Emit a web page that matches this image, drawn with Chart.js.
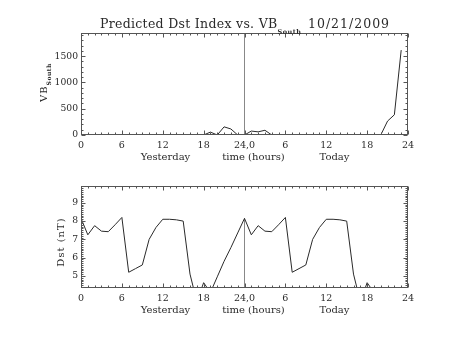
<!DOCTYPE html>
<html>
<head>
<meta charset="utf-8">
<script src="https://cdn.jsdelivr.net/npm/chart.js@4/dist/chart.umd.min.js"></script>
<style>
  html, body { margin: 0; padding: 0; background: #fff; }
  #wrap { position: relative; width: 453px; height: 340px; }
  canvas { position: absolute; left: 0; }
  #vb { top: 0; }
  #dst { top: 170px; }
</style>
</head>
<body>
<div id="wrap">
  <canvas id="vb" width="453" height="170"></canvas>
  <canvas id="dst" width="453" height="170"></canvas>
</div>
<script>
// hours since start of yesterday (24 = midnight, start of today)
const hours = [0, 1, 2, 3, 4, 5, 6, 7, 8, 9, 10, 11, 12, 13, 14, 15, 16, 17, 18, 19, 20, 21, 22, 23,
               24, 25, 26, 27, 28, 29, 30, 31, 32, 33, 34, 35, 36, 37, 38, 39, 40, 41, 42, 43, 44, 45, 46, 47];
const vbSouth = [0, 0, 0, 0, 0, 0, 0, 0, 0, 0, 0, 0, 0, 0, 0, 0, 0, 0, 0, 55, 0, 155, 115, 0,
                 0, 75, 60, 90, 0, 0, 0, 0, 0, 0, 0, 0, 0, 0, 0, 0, 0, 0, 0, 0, 0, 265, 385, 1615];
const dstValues = [8.15, 7.25, 7.75, 7.45, 7.42, 7.8, 8.2, 5.2, 5.4, 5.6, 7.0, 7.65, 8.1, 8.1, 8.07, 8.0, 5.1, 3.6, 4.63, 4.1, 4.95, 5.8, 6.55, 7.35,
                   8.15, 7.25, 7.75, 7.45, 7.42, 7.8, 8.2, 5.2, 5.4, 5.6, 7.0, 7.65, 8.1, 8.1, 8.07, 8.0, 5.1, 3.6, 4.63, 4.1];
const dayBoundary = 24;
const hourTicks = [0, 6, 12, 18, 24, 30, 36, 42, 48];
const hourTickLabels = ['0', '6', '12', '18', '24,0', '6', '12', '18', '24'];
const vbTicks = [0, 500, 1000, 1500];
const dstTicks = [5, 6, 7, 8, 9];

const INK = '#2a2a2a';
const FONT = '"DejaVu Serif", "Liberation Serif", serif';

// frame with inward major/minor ticks on all four sides, plus the text around it
const frameTicks = {
  id: 'frameTicks',
  afterDraw(chart, args, o) {
    const { ctx, chartArea: a, scales: { x, y } } = chart;
    const L = a.left + 0.5, R = a.right - 0.5, T = a.top + 0.5, B = a.bottom - 0.5;
    ctx.save();
    ctx.strokeStyle = '#555';
    ctx.lineWidth = 1;
    ctx.strokeRect(L, T, R - L, B - T);
    ctx.beginPath();
    for (let h = 0; h <= 48; h++) {
      const px = Math.round(x.getPixelForValue(h)) + 0.5;
      const len = h % 6 === 0 ? 4 : 2;
      ctx.moveTo(px, B); ctx.lineTo(px, B - len);
      ctx.moveTo(px, T); ctx.lineTo(px, T + len);
    }
    const k0 = Math.ceil(y.min / o.yMinor - 1e-6), k1 = Math.floor(y.max / o.yMinor + 1e-6);
    for (let k = k0; k <= k1; k++) {
      const py = Math.round(y.getPixelForValue(k * o.yMinor)) + 0.5;
      const len = k % o.perMajor === 0 ? 4 : 2;
      ctx.moveTo(L, py); ctx.lineTo(L + len, py);
      ctx.moveTo(R, py); ctx.lineTo(R - len, py);
    }
    ctx.stroke();

    ctx.fillStyle = INK;
    ctx.textBaseline = 'alphabetic';
    // captions under the hour axis
    const c = x.getPixelForValue(dayBoundary);
    const capY = a.bottom + 25;
    ctx.font = '10px ' + FONT;
    ctx.textAlign = 'center';
    ctx.fillText('Yesterday', c - 79, capY);
    ctx.fillText('time (hours)', c + 9, capY);
    ctx.fillText('Today', c + 90, capY);

    // y axis title, rotated, with optional subscript
    ctx.save();
    ctx.translate(o.yTitleX, o.yTitleY);
    ctx.rotate(-Math.PI / 2);
    ctx.font = '10px ' + FONT;
    ctx.letterSpacing = '1px';
    ctx.textAlign = o.ySub ? 'left' : 'center';
    ctx.fillText(o.yTitle, 0, 0);
    if (o.ySub) {
      const w = ctx.measureText(o.yTitle).width;
      ctx.letterSpacing = '0.5px';
      ctx.font = 'bold 6px ' + FONT;
      ctx.fillText(o.ySub, w, 4);
    }
    ctx.restore();

    if (o.title) {
      ctx.textAlign = 'left';
      ctx.font = '12.5px ' + FONT;
      ctx.letterSpacing = '0.3px';
      ctx.fillText(o.title, 100, 28);
      const w = ctx.measureText(o.title).width;
      ctx.font = 'bold 6.5px ' + FONT;
      ctx.letterSpacing = '0.5px';
      ctx.fillText(o.titleSub, 100 + w, 34);
      ctx.font = '12.5px ' + FONT;
      ctx.letterSpacing = '1px';
      ctx.fillText(o.titleDate, 308, 28);
    }
    ctx.restore();
  }
};

function hourAxis(height) {
  return {
    type: 'linear', min: 0, max: 48,
    grid: { display: false, drawTicks: false, tickLength: 0 }, border: { display: false },
    afterBuildTicks: s => { s.ticks = hourTicks.map(v => ({ value: v })); },
    afterFit: s => { s.height = height; },
    ticks: {
      padding: 5, color: INK, maxRotation: 0, autoSkip: false,
      font: { family: FONT, size: 9.5 },
      callback: (v, i) => hourTickLabels[i]
    }
  };
}

function valueAxis(min, max, ticks) {
  return {
    type: 'linear', min: min, max: max,
    grid: { display: false, drawTicks: false, tickLength: 0 }, border: { display: false },
    afterBuildTicks: s => { s.ticks = ticks.map(v => ({ value: v })); },
    afterFit: s => { s.width = 81; },
    ticks: { padding: 3, color: INK, font: { family: FONT, size: 9.2 }, callback: v => String(v) }
  };
}

const lineStyle = { borderColor: INK, borderWidth: 1, pointRadius: 0, tension: 0, fill: false };
const markStyle = { borderColor: '#888', borderWidth: 1, pointRadius: 0, fill: false };

const vbMax = 1940;
new Chart(document.getElementById('vb'), {
  type: 'line',
  data: {
    datasets: [
      { ...lineStyle, data: hours.map((h, i) => ({ x: h, y: vbSouth[i] })) },
      { ...markStyle, data: [{ x: dayBoundary, y: 0 }, { x: dayBoundary, y: vbMax }] }
    ]
  },
  options: {
    responsive: false, animation: false, events: [],
    layout: { padding: { top: 33, right: 45, left: 0, bottom: 0 } },
    scales: { x: hourAxis(35), y: valueAxis(0, vbMax, vbTicks) },
    plugins: {
      legend: { display: false }, tooltip: { enabled: false },
      frameTicks: {
        yMinor: 100, perMajor: 5,
        yTitle: 'VB', ySub: 'South', yTitleX: 47, yTitleY: 102,
        title: 'Predicted Dst Index vs. VB', titleSub: 'South', titleDate: '10/21/2009'
      }
    }
  },
  plugins: [frameTicks]
});

const dstMin = 4.34, dstMax = 9.92;
new Chart(document.getElementById('dst'), {
  type: 'line',
  data: {
    datasets: [
      { ...lineStyle, data: dstValues.map((v, i) => ({ x: hours[i], y: v })) },
      { ...markStyle, data: [{ x: dayBoundary, y: dstMin }, { x: dayBoundary, y: dstValues[dayBoundary] }] }
    ]
  },
  options: {
    responsive: false, animation: false, events: [],
    layout: { padding: { top: 16, right: 45, left: 0, bottom: 0 } },
    scales: { x: hourAxis(52), y: valueAxis(dstMin, dstMax, dstTicks) },
    plugins: {
      legend: { display: false }, tooltip: { enabled: false },
      frameTicks: {
        yMinor: 0.1, perMajor: 10,
        yTitle: 'Dst (nT)', yTitleX: 64, yTitleY: 72
      }
    }
  },
  plugins: [frameTicks]
});
</script>
</body>
</html>
